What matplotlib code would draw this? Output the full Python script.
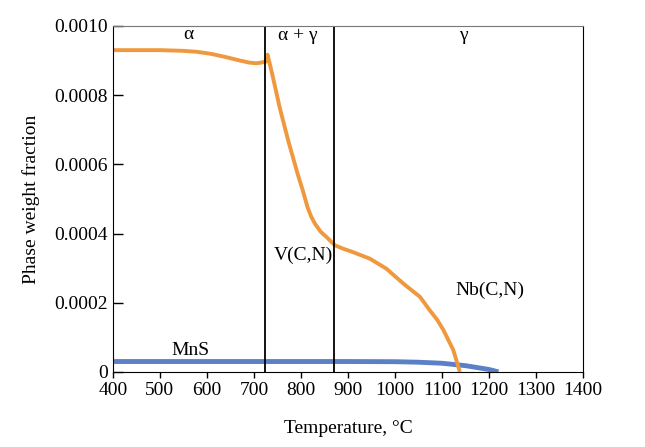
import matplotlib.pyplot as plt
from matplotlib.ticker import FuncFormatter

# Nb(C,N) / V(C,N) combined curve (orange)
carb_temp = [400, 450, 500, 550, 580, 610, 640, 670, 690, 705, 715, 722, 726, 729,
             739, 755, 773, 793, 804, 814, 822, 830, 842, 855, 872, 890, 911, 947,
             982, 1018, 1053, 1074, 1090, 1103, 1124, 1138]
carb_frac = [0.000930, 0.000930, 0.000930, 0.000928, 0.000925, 0.000919, 0.000910,
             0.000900, 0.000894, 0.000892, 0.000894, 0.000896, 0.000897, 0.000917,
             0.000860, 0.000763, 0.000668, 0.000572, 0.000524, 0.000476, 0.000448,
             0.000428, 0.000405, 0.000389, 0.000366, 0.000356, 0.000346, 0.000327,
             0.000298, 0.000255, 0.000217, 0.000178, 0.000150, 0.000121, 0.000063,
             0.0]

# MnS curve (blue)
mns_temp = [400, 600, 800, 900, 1000, 1050, 1100, 1150, 1200, 1220]
mns_frac = [0.000030, 0.000030, 0.000030, 0.000030, 0.0000295, 0.000028, 0.000025,
            0.000018, 0.000007, 0.0]

phase_bounds = [724, 870]
yticks = [0, 0.0002, 0.0004, 0.0006, 0.0008, 0.0010]
xticks = list(range(400, 1401, 100))

plt.rcParams["font.family"] = ["Liberation Serif", "DejaVu Serif"]
plt.rcParams["font.size"] = 14

fig = plt.figure(figsize=(6.45, 4.47), dpi=100)
ax = fig.add_axes([0.175, 0.168, 0.729, 0.774])

ax.plot(mns_temp, mns_frac, color="#5b80c6", lw=3.5, solid_capstyle="butt")
ax.plot(carb_temp, carb_frac, color="#f0983e", lw=2.8, solid_capstyle="butt",
        solid_joinstyle="round")
for b in phase_bounds:
    ax.axvline(b, color="black", lw=1.3)

ax.text(560, 0.000975, "α", ha="center", va="center")
ax.text(793, 0.000973, "α + γ", ha="center", va="center")
ax.text(1145, 0.000973, "γ", ha="center", va="center")
ax.text(805, 0.000338, "V(C,N)", ha="center", va="center")
ax.text(1202, 0.000237, "Nb(C,N)", ha="center", va="center")
ax.text(565, 0.000062, "MnS", ha="center", va="center")

ax.set_xlim(400, 1400)
ax.set_ylim(0, 0.001)
ax.set_xticks(xticks)
ax.set_yticks(yticks)
ax.yaxis.set_major_formatter(FuncFormatter(lambda v, p: "0" if v == 0 else f"{v:.4f}"))
ax.tick_params(axis="y", direction="in", length=7, width=1)
ax.tick_params(axis="x", direction="out", length=4, width=1)

ax.spines["top"].set_color("#777777")
for s in ["left", "bottom", "right"]:
    ax.spines[s].set_color("black")

ax.set_xlabel("Temperature, °C", labelpad=15)
ax.set_ylabel("Phase weight fraction", labelpad=10)

fig.savefig("out.png", dpi=100)
